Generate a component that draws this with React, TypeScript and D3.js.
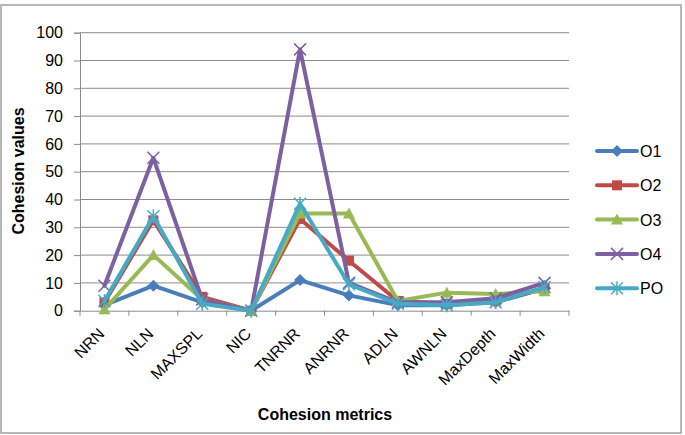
import React, { useEffect, useRef } from 'react';
import * as d3 from 'd3';

const metrics = ['NRN', 'NLN', 'MAXSPL', 'NIC', 'TNRNR', 'ANRNR', 'ADLN', 'AWNLN', 'MaxDepth', 'MaxWidth'];
const o1 = [2, 9, 3, 0, 11, 5.5, 2, 2, 3, 8];
const o2 = [3, 32.5, 5, 0, 33, 18, 3.5, 2.5, 3.5, 8];
const o3 = [0.5, 20, 4, 0, 35, 35, 3.5, 6.5, 6, 7];
const o4 = [9, 55, 4, 0, 94, 10, 3, 3, 4.5, 10];
const po = [3.5, 34, 2.5, 0, 38.5, 9.5, 2.5, 2, 3, 8.5];
const yTicks = [0, 10, 20, 30, 40, 50, 60, 70, 80, 90, 100];

const series = [
  { name: 'O1', values: o1, color: '#4a7ebb', marker: 'diamond' },
  { name: 'O2', values: o2, color: '#be4b48', marker: 'square' },
  { name: 'O3', values: o3, color: '#98b954', marker: 'triangle' },
  { name: 'O4', values: o4, color: '#7d60a0', marker: 'x' },
  { name: 'PO', values: po, color: '#46aac5', marker: 'star' },
];

const FONT = '"Liberation Sans", Arial, sans-serif';

function drawMarker(g: d3.Selection<SVGGElement, unknown, null, undefined>, type: string, x: number, y: number, color: string) {
  if (type === 'diamond') {
    g.append('path').attr('d', `M${x},${y - 6}L${x + 6},${y}L${x},${y + 6}L${x - 6},${y}Z`).attr('fill', color);
  } else if (type === 'square') {
    g.append('rect').attr('x', x - 5).attr('y', y - 5).attr('width', 10).attr('height', 10).attr('fill', color);
  } else if (type === 'triangle') {
    g.append('path').attr('d', `M${x},${y - 6}L${x + 6},${y + 5}L${x - 6},${y + 5}Z`).attr('fill', color);
  } else if (type === 'x') {
    g.append('path').attr('d', `M${x - 6},${y - 6}L${x + 6},${y + 6}M${x + 6},${y - 6}L${x - 6},${y + 6}`)
      .attr('stroke', color).attr('stroke-width', 1.5);
  } else {
    g.append('path').attr('d', `M${x - 6},${y - 6}L${x + 6},${y + 6}M${x + 6},${y - 6}L${x - 6},${y + 6}M${x},${y - 7}L${x},${y + 7}`)
      .attr('stroke', color).attr('stroke-width', 1.5);
  }
}

const App: React.FC = () => {
  const svgRef = useRef<SVGSVGElement | null>(null);

  useEffect(() => {
    if (!svgRef.current) return;
    const svg = d3.select(svgRef.current);
    svg.selectAll('*').remove();

    const width = 685;
    const height = 435;
    const left = 80, right = 569, top = 32.7, bottom = 310.7;

    svg.append('rect').attr('x', 1).attr('y', 5).attr('width', 680).attr('height', 428)
      .attr('fill', '#fff').attr('stroke', '#a0a0a0').attr('stroke-width', 1.5);

    const x = d3.scaleBand<string>().domain(metrics).range([left, right]);
    const y = d3.scaleLinear().domain([0, 100]).range([bottom, top]);

    // gridlines
    svg.append('g').selectAll('line').data(yTicks.slice(1)).enter().append('line')
      .attr('x1', left).attr('x2', right)
      .attr('y1', (d) => y(d)).attr('y2', (d) => y(d))
      .attr('stroke', '#8c8c8c').attr('stroke-width', 1);

    // y axis
    const yAxis = svg.append('g').attr('transform', `translate(${left},0)`)
      .call(d3.axisLeft(y).tickValues(yTicks).tickSize(6).tickPadding(11));
    yAxis.select('.domain').attr('stroke', '#8c8c8c');
    yAxis.selectAll('line').attr('stroke', '#8c8c8c');
    yAxis.selectAll('text').attr('font-family', FONT).attr('font-size', 16).attr('fill', '#000');

    // x axis
    const xAxis = svg.append('g').attr('transform', `translate(0,${bottom})`)
      .call(d3.axisBottom(x).tickSize(0).tickFormat(() => ''));
    xAxis.select('.domain').attr('stroke', '#8c8c8c');
    const edges = d3.range(metrics.length + 1).map((i) => left + i * x.bandwidth());
    xAxis.append('g').selectAll('line').data(edges).enter().append('line')
      .attr('x1', (d) => d).attr('x2', (d) => d).attr('y1', 0).attr('y2', 5)
      .attr('stroke', '#8c8c8c');

    svg.append('g').selectAll('text').data(metrics).enter().append('text')
      .attr('transform', (d) => `translate(${(x(d) ?? 0) + x.bandwidth() / 2 + 1},${bottom + 24}) rotate(-45)`)
      .attr('text-anchor', 'end')
      .attr('font-family', FONT).attr('font-size', 16)
      .text((d) => d);

    // series
    const line = d3.line<number>()
      .x((_, i) => (x(metrics[i]) ?? 0) + x.bandwidth() / 2)
      .y((d) => y(d));

    series.forEach((s) => {
      const g = svg.append('g');
      g.append('path').datum(s.values).attr('d', line)
        .attr('fill', 'none').attr('stroke', s.color).attr('stroke-width', 4)
        .attr('stroke-linejoin', 'round').attr('stroke-linecap', 'round');
      s.values.forEach((v, i) => {
        drawMarker(g, s.marker, (x(metrics[i]) ?? 0) + x.bandwidth() / 2, y(v), s.color);
      });
    });

    // axis titles
    svg.append('text')
      .attr('transform', `translate(24,171) rotate(-90)`)
      .attr('text-anchor', 'middle')
      .attr('font-family', FONT).attr('font-size', 16).attr('font-weight', 'bold')
      .text('Cohesion values');

    svg.append('text')
      .attr('x', 325).attr('y', 420)
      .attr('text-anchor', 'middle')
      .attr('font-family', FONT).attr('font-size', 16).attr('font-weight', 'bold')
      .text('Cohesion metrics');

    // legend
    const legend = svg.append('g');
    series.forEach((s, i) => {
      const ly = 151 + i * 34.3;
      const g = legend.append('g');
      g.append('line').attr('x1', 597).attr('x2', 637).attr('y1', ly).attr('y2', ly)
        .attr('stroke', s.color).attr('stroke-width', 4).attr('stroke-linecap', 'round');
      drawMarker(g, s.marker, 617, ly, s.color);
      g.append('text').attr('x', 640).attr('y', ly + 6)
        .attr('font-family', FONT).attr('font-size', 16)
        .text(s.name);
    });

    svg.attr('width', width).attr('height', height);
  }, []);

  return (
    <div style={{ position: 'absolute', left: 0, top: 0 }}>
      <svg ref={svgRef} width={685} height={435} style={{ display: 'block' }}></svg>
    </div>
  );
};

export default App;
